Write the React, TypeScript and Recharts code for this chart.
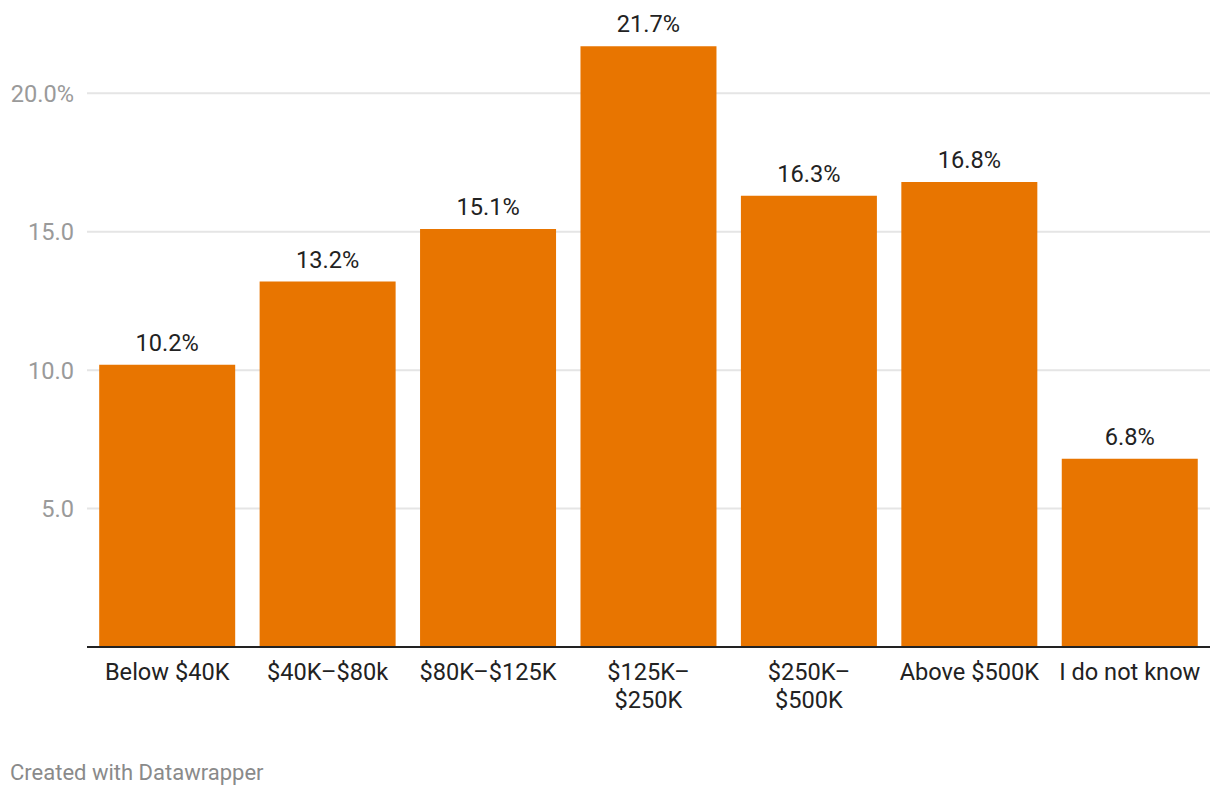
import { Bar, BarChart, CartesianGrid, LabelList, XAxis, YAxis } from "recharts";

const categories = [
	"Below $40K",
	"$40K–$80k",
	"$80K–$125K",
	"$125K–$250K",
	"$250K–$500K",
	"Above $500K",
	"I do not know",
];
const shares = [10.2, 13.2, 15.1, 21.7, 16.3, 16.8, 6.8];
const yTicks = [5, 10, 15, 20];

const data = categories.map((name, i) => ({ name, value: shares[i] }));

const FONT = "Roboto, 'Noto Sans', sans-serif";

function CategoryTick(props: any) {
	const { x, y, payload } = props;
	const label: string = payload.value;
	// long ranges wrap after the dash, like the original
	let lines = [label];
	if (label.length > 10 && label.includes("–")) {
		const i = label.indexOf("–") + 1;
		lines = [label.slice(0, i), label.slice(i)];
	}
	return (
		<text
			x={x}
			y={y}
			textAnchor="middle"
			fill="#222"
			fontSize={23.6}
			fontFamily={FONT}
		>
			{lines.map((l, i) => (
				<tspan key={i} x={x} y={y + 33 + i * 28}>
					{l}
				</tspan>
			))}
		</text>
	);
}

export default function App() {
	return (
		<div
			style={{
				position: "absolute",
				left: 0,
				top: 0,
				width: 1220,
				height: 796,
				background: "#fff",
				fontFamily: FONT,
			}}
		>
			<BarChart
				width={1220}
				height={796}
				data={data}
				margin={{ top: 38, right: 10, bottom: 69, left: 0 }}
				barCategoryGap="7.6%"
			>
				<CartesianGrid
					vertical={false}
					horizontalValues={yTicks}
					stroke="#e5e5e5"
					strokeWidth={2}
				/>
				<YAxis
					domain={[0, 22]}
					ticks={yTicks}
					width={87}
					axisLine={false}
					tickLine={false}
					tickSize={0}
					tickMargin={13}
					tick={{ fill: "#9a9a9a", fontSize: 23.6, fontFamily: FONT }}
					tickFormatter={(v: number) =>
						v === 20 ? "20.0%" : v.toFixed(1)
					}
				/>
				<XAxis
					dataKey="name"
					height={80}
					interval={0}
					axisLine={{ stroke: "#222", strokeWidth: 2 }}
					tickLine={false}
					tickSize={0}
					tickMargin={0}
					tick={<CategoryTick />}
				/>
				<Bar dataKey="value" fill="#e87500" isAnimationActive={false}>
					<LabelList
						dataKey="value"
						position="top"
						offset={14}
						fill="#222"
						fontSize={23.6}
						fontFamily={FONT}
						formatter={(v: any) => `${Number(v).toFixed(1)}%`}
					/>
				</Bar>
			</BarChart>
			<div
				style={{
					position: "absolute",
					left: 10,
					top: 760,
					fontSize: 22,
					color: "#8a8a8a",
				}}
			>
				Created with Datawrapper
			</div>
		</div>
	);
}
